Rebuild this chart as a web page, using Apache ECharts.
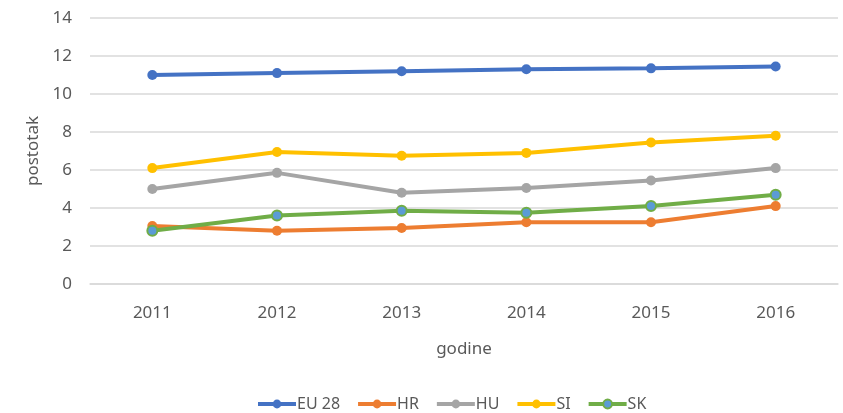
<!DOCTYPE html>
<html lang="hr">
<head>
    <meta charset="UTF-8">
    <title>postotak</title>
    <script src="https://cdn.jsdelivr.net/npm/echarts@6/dist/echarts.min.js"></script>
    <style>
        html, body { margin: 0; padding: 0; background: #fff; }
    </style>
</head>
<body>
<div id="main" style="width: 843px;height:413px;"></div>
<script>
    // podaci
    var years = ['2011', '2012', '2013', '2014', '2015', '2016'];
    var eu28 = [11.0, 11.1, 11.2, 11.3, 11.35, 11.45];
    var hr = [3.05, 2.8, 2.95, 3.25, 3.25, 4.1];
    var hu = [5.0, 5.85, 4.8, 5.05, 5.45, 6.1];
    var si = [6.1, 6.95, 6.75, 6.9, 7.45, 7.8];
    var sk = [2.8, 3.6, 3.85, 3.75, 4.1, 4.7];

    var names = ['EU 28', 'HR', 'HU', 'SI', 'SK'];
    var lineColors = ['#4472C4', '#ED7D31', '#A5A5A5', '#FFC000', '#70AD47'];
    var markerColors = ['#4472C4', '#ED7D31', '#A5A5A5', '#FFC000', '#5B9BD5'];
    var values = [eu28, hr, hu, si, sk];

    var textColor = '#595959';
    var fontFam = '"Noto Sans", sans-serif';

    var myChart = echarts.init(document.getElementById('main'));

    var series = [];
    for (var i = 0; i < names.length; i++) {
        series.push({
            name: names[i],
            type: 'line',
            data: values[i],
            symbol: 'circle',
            symbolSize: 10,
            lineStyle: { color: lineColors[i], width: 4 },
            itemStyle: {
                color: markerColors[i],
                borderColor: lineColors[i],
                borderWidth: i === 4 ? 2 : 0
            }
        });
    }

    var option = {
        animation: false,
        grid: { left: 90, right: 5, top: 18, bottom: 129 },
        legend: {
            data: names,
            top: 391,
            left: 251,
            itemWidth: 38,
            itemHeight: 11,
            itemGap: 16,
            lineStyle: { width: 4 },
            textStyle: { color: textColor, fontSize: 16, fontFamily: fontFam, padding: [0, 0, 0, -4] }
        },
        xAxis: {
            type: 'category',
            data: years,
            boundaryGap: true,
            name: 'godine',
            nameLocation: 'middle',
            nameGap: 57,
            nameTextStyle: { color: textColor, fontSize: 17, fontFamily: fontFam },
            axisLine: { show: true, lineStyle: { color: '#D9D9D9', width: 1.5 } },
            axisTick: { show: false },
            axisLabel: { color: textColor, fontSize: 17, fontFamily: fontFam, margin: 21 }
        },
        yAxis: {
            type: 'value',
            min: 0,
            max: 14,
            interval: 2,
            name: 'postotak',
            nameLocation: 'middle',
            nameGap: 47,
            nameTextStyle: { color: textColor, fontSize: 17, fontFamily: fontFam },
            axisLine: { show: false },
            axisTick: { show: false },
            axisLabel: { color: textColor, fontSize: 17, fontFamily: fontFam, margin: 18 },
            splitLine: { lineStyle: { color: '#D9D9D9', width: 1.5 } }
        },
        series: series
    };

    myChart.setOption(option);
</script>
</body>
</html>
